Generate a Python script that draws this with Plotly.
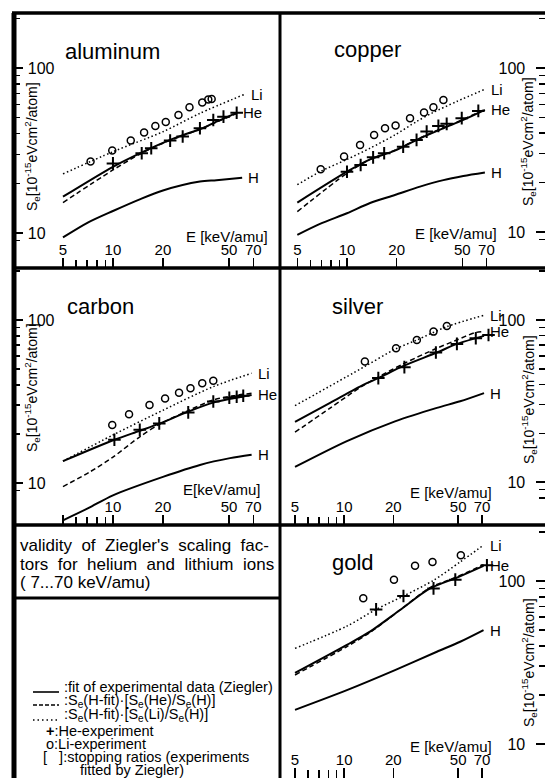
import math
import plotly.graph_objects as go

# ---------------- data (E in keV/amu, Se in 1e-15 eVcm2/atom) ----------------
# aluminum
al_H_E = [5, 7.1, 10, 14.5, 20, 33.4, 42, 60]
al_H_S = [9.4, 11.6, 13.6, 16.0, 18.1, 20.5, 20.9, 21.6]
al_Hefit_E = [5, 10, 14.5, 20, 26.5, 33.4, 42, 55.6]
al_Hefit_S = [16.6, 25.2, 30.4, 35.2, 39.3, 42.5, 47.3, 53.5]
al_Hesc_E = [5, 10, 14.5, 20, 26.5, 33.4, 42, 55.6]
al_Hesc_S = [15.3, 24.1, 30.0, 35.0, 39.0, 42.5, 47.0, 53.0]
al_Lisc_E = [5, 10, 20, 33.4, 62]
al_Lisc_S = [22.8, 31.1, 41.1, 53.1, 69.2]
al_Heexp_E = [10, 14.9, 17.0, 22.1, 26.3, 33.4, 40.2, 46.3, 55.6]
al_Heexp_S = [26.4, 30.4, 32.6, 36.3, 38.4, 43.1, 48.4, 50.7, 53.5]
al_Liexp_E = [7.33, 9.9, 12.8, 15.4, 18.0, 20.8, 24.8, 28.9, 34.5, 37.5, 39.3]
al_Liexp_S = [27.1, 31.6, 36.3, 40.6, 44.5, 47.0, 51.9, 57.8, 61.7, 64.5, 64.9]

# copper
cu_H_E = [5, 6.86, 10, 13.8, 19.5, 27.7, 38.4, 50.7, 68.5]
cu_H_S = [9.6, 11.2, 13.0, 15.0, 16.8, 18.9, 20.7, 21.9, 23.0]
cu_Hefit_E = [5, 10, 13.8, 19.5, 27.7, 38.4, 50.7, 68.5]
cu_Hefit_S = [15.1, 23.3, 27.7, 31.3, 37.2, 42.9, 48.2, 55.5]
cu_Hesc_E = [5, 10, 13.8, 19.5, 27.7, 38.4, 50.7, 68.5]
cu_Hesc_S = [13.3, 22.8, 27.7, 31.5, 37.4, 43.2, 48.6, 56.0]
cu_Lisc_E = [5, 6.86, 10, 13.8, 19.5, 26.4, 33.3, 46.2, 68.5]
cu_Lisc_S = [19.4, 23.3, 27.7, 32.4, 39.0, 47.1, 53.5, 62.4, 74.1]
cu_Heexp_E = [10.0, 12.1, 14.4, 16.8, 21.9, 26.4, 30.4, 35.8, 40.2, 49.6, 62.5]
cu_Heexp_S = [23.3, 25.6, 28.5, 30.2, 33.1, 36.4, 40.9, 44.3, 45.6, 49.4, 54.7]
cu_Liexp_E = [6.93, 9.6, 12.0, 14.6, 17.0, 19.7, 24.1, 29.3, 33.4, 38.4]
cu_Liexp_S = [24.1, 28.8, 33.9, 39.0, 42.9, 44.5, 49.3, 53.5, 57.6, 63.8]

# carbon
c_H_E = [5, 7.1, 10, 20, 33.4, 50.7, 68.4]
c_H_S = [5.9, 7.0, 8.4, 10.9, 12.9, 14.2, 14.9]
c_Hefit_E = [5, 10.2, 14.5, 19.2, 28.4, 40.2, 53.2, 68.4]
c_Hefit_S = [13.6, 18.4, 20.9, 23.2, 27.4, 31.1, 33.1, 34.7]
c_Hesc_E = [5, 7.27, 10, 14.5, 19.2, 28.4, 40.2, 53.2, 68.4]
c_Hesc_S = [9.5, 11.7, 14.4, 19.2, 23.0, 27.8, 32.3, 34.3, 35.5]
c_Lisc_E = [5, 10, 20.1, 40.2, 68.4]
c_Lisc_S = [13.6, 19.7, 28.0, 39.0, 47.1]
c_Heexp_E = [10.2, 14.5, 19.0, 28.4, 40.2, 50.2, 55.6, 60.9]
c_Heexp_S = [18.4, 21.2, 23.2, 27.1, 31.6, 33.3, 33.8, 34.3]
c_Liexp_E = [9.9, 12.5, 16.6, 20.6, 25.0, 29.3, 34.5, 40.2]
c_Liexp_S = [22.7, 26.4, 30.1, 33.0, 35.8, 38.1, 40.9, 42.4]

# silver
ag_H_E = [5, 10.4, 20.5, 37.0, 51.4, 72]
ag_H_S = [12.4, 17.9, 23.7, 28.7, 31.5, 35.4]
ag_Hefit_E = [5, 8.2, 13.1, 16.2, 23.1, 37.0, 49.1, 63.6, 72]
ag_Hefit_S = [23.5, 30.8, 39.8, 43.8, 52.1, 63.0, 71.2, 77.1, 79.8]
ag_Hesc_E = [5, 8.2, 13.1, 23.1, 37.0, 49.1, 63.6, 72]
ag_Hesc_S = [20.3, 28.6, 39.4, 53.7, 67.0, 75.3, 83.6, 84.8]
ag_Lisc_E = [5, 13.4, 20.5, 27.9, 42.6, 72]
ag_Lisc_S = [29.6, 51.7, 66.0, 75.3, 91.0, 107]
ag_Heexp_E = [16.2, 23.4, 36.5, 49.1, 64.1, 76.7]
ag_Heexp_S = [43.8, 51.2, 63.0, 71.2, 77.1, 80.9]
ag_Liexp_E = [13.4, 20.8, 27.9, 35.3, 42.6]
ag_Liexp_S = [55.5, 67.0, 75.3, 84.8, 91.8]

# gold
au_H_E = [5, 10.4, 20.5, 37.0, 51.4, 71.5]
au_H_S = [16.2, 21.4, 28.4, 36.8, 42.4, 50.0]
au_Hefit_E = [5, 10.4, 14.4, 22.0, 33.6, 49.1, 71.5]
au_Hefit_S = [27.3, 40.6, 48.9, 66.4, 90.1, 105, 124]
au_Hesc_E = [5, 10.4, 14.4, 22.0, 33.6, 49.1, 71.5]
au_Hesc_S = [26.5, 39.6, 48.3, 66.4, 91.0, 106, 126]
au_Lisc_E = [5, 10.4, 15.7, 23.1, 35.3, 51.4, 71.5]
au_Lisc_S = [38.6, 52.9, 67.0, 80.9, 101, 131, 166]
au_Heexp_E = [15.7, 23.1, 35.3, 48.0, 75]
au_Heexp_S = [67.0, 80.9, 90.1, 102, 125]
au_Liexp_E = [13.1, 20.2, 27.2, 34.8, 51.9]
au_Liexp_S = [78.3, 102, 124, 131, 144]

x_tickvals = [5, 10, 20, 50, 70]
x_ticktext = ["5", "10", "20", "50", "70"]
x_minor = [6, 7, 8, 9]
y_tickvals = [10, 100]
y_ticktext = ["10", "100"]
y_minor = [6, 7, 8, 9, 20, 30, 40, 50, 60, 70, 80, 90, 200]

panel_names = ["aluminum", "copper", "carbon", "silver", "gold"]

data = {
    "aluminum": (al_H_E, al_H_S, al_Hefit_E, al_Hefit_S, al_Hesc_E, al_Hesc_S, al_Lisc_E, al_Lisc_S,
                 al_Heexp_E, al_Heexp_S, al_Liexp_E, al_Liexp_S),
    "copper": (cu_H_E, cu_H_S, cu_Hefit_E, cu_Hefit_S, cu_Hesc_E, cu_Hesc_S, cu_Lisc_E, cu_Lisc_S,
               cu_Heexp_E, cu_Heexp_S, cu_Liexp_E, cu_Liexp_S),
    "carbon": (c_H_E, c_H_S, c_Hefit_E, c_Hefit_S, c_Hesc_E, c_Hesc_S, c_Lisc_E, c_Lisc_S,
               c_Heexp_E, c_Heexp_S, c_Liexp_E, c_Liexp_S),
    "silver": (ag_H_E, ag_H_S, ag_Hefit_E, ag_Hefit_S, ag_Hesc_E, ag_Hesc_S, ag_Lisc_E, ag_Lisc_S,
               ag_Heexp_E, ag_Heexp_S, ag_Liexp_E, ag_Liexp_S),
    "gold": (au_H_E, au_H_S, au_Hefit_E, au_Hefit_S, au_Hesc_E, au_Hesc_S, au_Lisc_E, au_Lisc_S,
             au_Heexp_E, au_Heexp_S, au_Liexp_E, au_Liexp_S),
}

# ---------------- layout (pixel geometry) ----------------
W, H = 545, 778
FONT = "Liberation Sans, Arial, sans-serif"


def fx(px):
    return px / W


def fy(py):
    return 1 - py / H


geom = {
    "aluminum": dict(xd=(14, 280), yd=(13, 268), xr=(0.404, 2.006), yr=(0.788, 2.333), side="left",
                     show5=True, name=(63, 52), elab=(227, 236), etext="E [keV/amu]", ytit=(32, 147)),
    "copper": dict(xd=(280, 545), yd=(13, 268), xr=(0.594, 2.2), yr=(0.780, 2.335), side="right",
                   show5=True, name=(332, 50), elab=(456, 234), etext="E [keV/amu]", ytit=(528, 142)),
    "carbon": dict(xd=(14, 280), yd=(268, 525), xr=(0.404, 2.006), yr=(0.742, 2.319), side="left",
                   show5=False, name=(65, 307), elab=(222, 489), etext="E[keV/amu]", ytit=(32, 388)),
    "silver": dict(xd=(280, 545), yd=(268, 525), xr=(0.607, 2.231), yr=(0.735, 2.321), side="right",
                   show5=True, name=(330, 307), elab=(451, 492), etext="E [keV/amu]", ytit=(529, 400)),
    "gold": dict(xd=(280, 545), yd=(525, 778), xr=(0.607, 2.231), yr=(0.791, 2.344), side="right",
                 show5=True, name=(330, 562), elab=(451, 746), etext="E [keV/amu]", ytit=(529, 663)),
}

fig = go.Figure()
annotations = []
layout_axes = {}

for i, pname in enumerate(panel_names, start=1):
    g = geom[pname]
    xa = "x" if i == 1 else f"x{i}"
    ya = "y" if i == 1 else f"y{i}"
    (hE, hS, hfE, hfS, hsE, hsS, lsE, lsS, heE, heS, liE, liS) = data[pname]

    fig.add_trace(go.Scatter(x=hE, y=hS, mode="lines",
                             line=dict(color="black", width=2, shape="spline", smoothing=0.8),
                             xaxis=xa, yaxis=ya, showlegend=False))
    fig.add_trace(go.Scatter(x=hfE, y=hfS, mode="lines",
                             line=dict(color="black", width=2, shape="spline", smoothing=0.8),
                             xaxis=xa, yaxis=ya, showlegend=False))
    fig.add_trace(go.Scatter(x=hsE, y=hsS, mode="lines",
                             line=dict(color="black", width=1.5, dash="5px,3px", shape="spline", smoothing=0.8),
                             xaxis=xa, yaxis=ya, showlegend=False))
    fig.add_trace(go.Scatter(x=lsE, y=lsS, mode="lines",
                             line=dict(color="black", width=1.5, dash="1.5px,2.5px", shape="spline",
                                       smoothing=0.8),
                             xaxis=xa, yaxis=ya, showlegend=False))
    fig.add_trace(go.Scatter(x=heE, y=heS, mode="markers",
                             marker=dict(symbol="cross-thin", size=9, line=dict(color="black", width=2)),
                             xaxis=xa, yaxis=ya, showlegend=False))
    fig.add_trace(go.Scatter(x=liE, y=liS, mode="markers",
                             marker=dict(symbol="circle-open", size=7, color="black", line=dict(width=1.5)),
                             xaxis=xa, yaxis=ya, showlegend=False))

    ttext = list(x_ticktext)
    if not g["show5"]:
        ttext[0] = ""
    layout_axes["xaxis" if i == 1 else f"xaxis{i}"] = dict(
        type="log", range=list(g["xr"]), domain=[fx(g["xd"][0]), fx(g["xd"][1])], anchor=ya,
        tickmode="array", tickvals=x_tickvals, ticktext=ttext, ticks="inside", ticklen=10, tickwidth=1.5,
        tickcolor="black", ticklabelposition="inside", tickfont=dict(size=15, color="black", family=FONT),
        minor=dict(tickvals=x_minor, ticks="inside", ticklen=8, tickwidth=1.5, tickcolor="black"),
        showgrid=False, zeroline=False, showline=False, fixedrange=True)
    layout_axes["yaxis" if i == 1 else f"yaxis{i}"] = dict(
        type="log", range=list(g["yr"]), domain=[fy(g["yd"][1]), fy(g["yd"][0])], anchor=xa, side=g["side"],
        tickmode="array", tickvals=y_tickvals, ticktext=y_ticktext, ticks="inside", ticklen=9, tickwidth=1.5,
        tickcolor="black", ticklabelposition="inside", ticklabelstandoff=(5 if g["side"] == "left" else 11),
        tickfont=dict(size=16, color="black", family=FONT),
        minor=dict(tickvals=y_minor, ticks="inside", ticklen=6, tickwidth=1.5, tickcolor="black"),
        showgrid=False, zeroline=False, showline=False, fixedrange=True)

    # panel name
    annotations.append(dict(x=fx(g["name"][0]), y=fy(g["name"][1]), xref="paper", yref="paper",
                            text=pname, showarrow=False, xanchor="left", yanchor="middle",
                            font=dict(size=22, color="black", family=FONT)))
    # energy label
    annotations.append(dict(x=fx(g["elab"][0]), y=fy(g["elab"][1]), xref="paper", yref="paper",
                            text=g["etext"], showarrow=False, xanchor="center", yanchor="middle",
                            font=dict(size=15, color="black", family=FONT)))
    # y title
    annotations.append(dict(x=fx(g["ytit"][0]), y=fy(g["ytit"][1]), xref="paper", yref="paper",
                            text="S<sub>e</sub>[10<sup>-15</sup>eVcm<sup>2</sup>/atom]", textangle=-90,
                            showarrow=False, xanchor="center", yanchor="middle",
                            font=dict(size=14, color="black", family=FONT)))
    # curve labels at curve ends
    for lab, E, S, ysh in (("Li", lsE, lsS, 0), ("He", hfE, hfS, 4 if pname == "silver" else 0), ("H", hE, hS, 0)):
        annotations.append(dict(x=math.log10(E[-1]), y=math.log10(S[-1]), xref=xa, yref=ya, text=lab,
                                showarrow=False, xanchor="left", yanchor="middle", xshift=4, yshift=ysh,
                                font=dict(size=15, color="black", family=FONT)))

# ---------------- text boxes ----------------
NB = "\u00a0"
box_lines = [
    (545, f"validity{NB} of{NB} Ziegler's{NB} scaling{NB} fac-"),
    (564, f"tors{NB} for{NB} helium{NB} and{NB} lithium{NB} ions"),
    (582, "( 7...70 keV/amu)"),
]
for y, t in box_lines:
    annotations.append(dict(x=fx(18), y=fy(y), xref="paper", yref="paper", text=t, showarrow=False,
                            xanchor="left", yanchor="middle", font=dict(size=17, color="black", family=FONT)))

leg_lines = [
    (62, 687, ":fit of experimental data (Ziegler)"),
    (62, 701, ":S<sub>e</sub>(H-fit)·[S<sub>e</sub>(He)/S<sub>e</sub>(H)]"),
    (62, 715, ":S<sub>e</sub>(H-fit)·[S<sub>e</sub>(Li)/S<sub>e</sub>(H)]"),
    (44, 731, "<b>+</b>:He-experiment"),
    (44, 744, "o:Li-experiment"),
    (41, 757, f"[{NB}{NB}{NB}]:stopping ratios (experiments"),
    (78, 770, "fitted by Ziegler)"),
]
for x, y, t in leg_lines:
    annotations.append(dict(x=fx(x), y=fy(y), xref="paper", yref="paper", text=t, showarrow=False,
                            xanchor="left", yanchor="middle", font=dict(size=14.5, color="black", family=FONT)))

shapes = []
# legend line samples
for y, dash in ((692, "solid"), (705, "4px,2px"), (720, "1.5px,3px")):
    shapes.append(dict(type="line", xref="paper", yref="paper", x0=fx(33), x1=fx(59), y0=fy(y), y1=fy(y),
                       line=dict(color="black", width=1.6, dash=dash)))

# frame lines
frame = [
    (14, 13, 14, 778, 5),     # left border
    (12, 13, 545, 13, 3.5),   # top border
    (14, 268, 545, 268, 3.5),
    (14, 525, 545, 525, 3.5),
    (14, 598, 280, 598, 3),
    (280, 13, 280, 778, 3),
]
for x0, y0, x1, y1, w in frame:
    shapes.append(dict(type="line", xref="paper", yref="paper", x0=fx(x0), y0=fy(y0), x1=fx(x1), y1=fy(y1),
                       line=dict(color="black", width=w)))

fig.update_layout(
    width=W, height=H, margin=dict(l=0, r=0, t=0, b=0),
    paper_bgcolor="white", plot_bgcolor="rgba(0,0,0,0)",
    showlegend=False, annotations=annotations, shapes=shapes,
    font=dict(family=FONT, color="black"),
    **layout_axes,
)

fig.write_html("out.html", config={"displayModeBar": False, "staticPlot": True},
               post_script="document.body.style.margin='0px';document.body.style.overflow='hidden';")
